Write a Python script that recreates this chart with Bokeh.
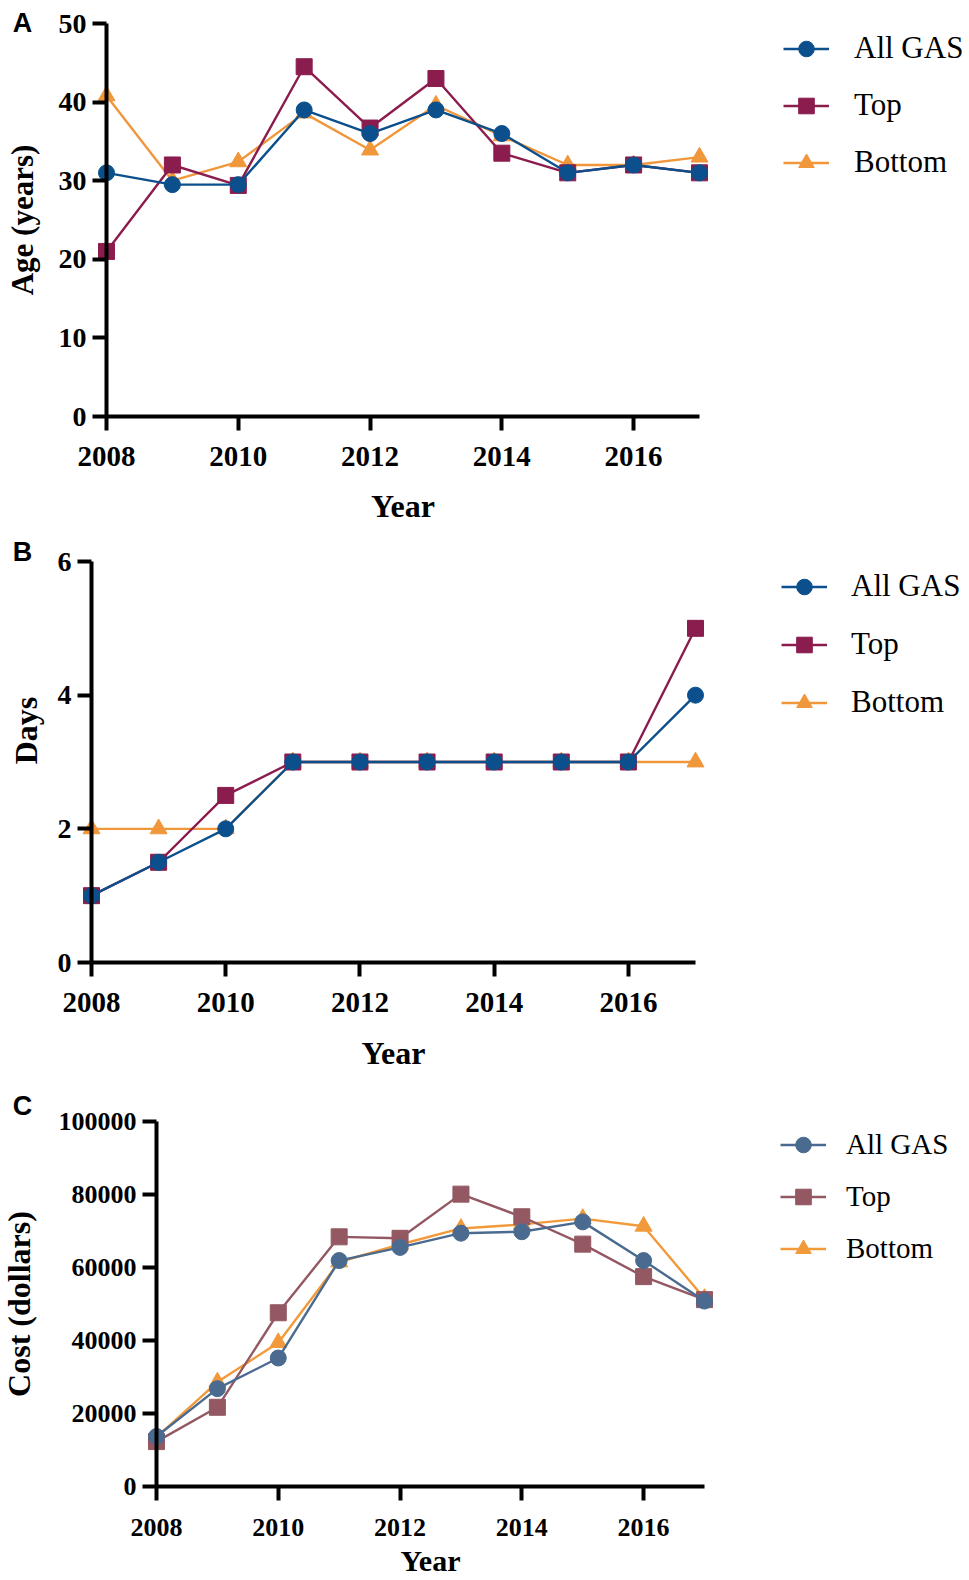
import math
from bokeh.plotting import figure
from bokeh.models import Range1d, FixedTicker, NumeralTickFormatter, Legend, LegendItem, Label
from bokeh.layouts import column
from bokeh.embed import file_html
from bokeh.resources import INLINE

years = [2008, 2009, 2010, 2011, 2012, 2013, 2014, 2015, 2016, 2017]
year_ticks = [2008, 2010, 2012, 2014, 2016]
series_names = ["All GAS", "Top", "Bottom"]

# Panel A: Age (years)
age_all = [31, 29.5, 29.5, 39, 36, 39, 36, 31, 32, 31]
age_top = [21, 32, 29.4, 44.5, 36.7, 43, 33.5, 31, 32, 31]
age_bottom = [40.8, 30, 32.4, 38.6, 33.9, 39.6, 35.7, 32, 32, 33]
age_ticks = [0, 10, 20, 30, 40, 50]

# Panel B: Days
days_all = [1, 1.5, 2, 3, 3, 3, 3, 3, 3, 4]
days_top = [1, 1.5, 2.5, 3, 3, 3, 3, 3, 3, 5]
days_bottom = [2, 2, 2, 3, 3, 3, 3, 3, 3, 3]
days_ticks = [0, 2, 4, 6]

# Panel C: Cost (dollars)
cost_all = [13700, 26800, 35200, 61900, 65500, 69400, 69800, 72500, 61900, 50800]
cost_top = [12300, 21700, 47600, 68400, 68000, 80100, 73900, 66400, 57500, 51200]
cost_bottom = [13500, 28600, 39400, 61500, 66300, 70700, 71800, 73400, 71300, 51500]
cost_ticks = [0, 20000, 40000, 60000, 80000, 100000]

COLORS_AB = ["#0b4f8c", "#8b1c4e", "#f0973b"]
COLORS_C = ["#4a6b8f", "#935861", "#f29a3a"]
MARKERS = ["circle", "square", "triangle"]

W = 965
SERIF = "Liberation Serif"


def panel(H, x0, x1, y0, ytop, ymax, yticks, ylabel, data, colors, letter, letter_y,
          tick_x_size, tick_y_size, xlab_size, ylab_size, xt_standoff, xl_standoff,
          ylab_standoff, leg, ylabel_pos=None):
    sx = (x1 - x0) / 9.0
    sy = (y0 - ytop) / ymax
    p = figure(width=W, height=H, output_backend="svg", toolbar_location=None, title=None,
               x_range=Range1d(2008 - x0 / sx, 2017 + (W - x1) / sx),
               y_range=Range1d(-(H - y0) / sy, ymax + ytop / sy),
               min_border=0, outline_line_color=None)
    p.grid.visible = False

    for ax in (p.xaxis[0], p.yaxis[0]):
        ax.axis_line_width = 4
        ax.axis_line_color = "black"
        ax.major_tick_line_width = 4
        ax.major_tick_line_color = "black"
        ax.major_tick_out = 14
        ax.major_tick_in = 0
        ax.minor_tick_out = 0
        ax.minor_tick_in = 0
        ax.major_label_text_font = SERIF
        ax.major_label_text_font_style = "bold"
        ax.major_label_text_color = "black"
        ax.axis_label_text_font = SERIF
        ax.axis_label_text_font_style = "bold"
        ax.axis_label_text_color = "black"

    xa = p.xaxis[0]
    xa.fixed_location = 0
    xa.bounds = (2008, 2017)
    xa.ticker = FixedTicker(ticks=year_ticks)
    xa.major_label_text_font_size = tick_x_size
    xa.major_label_standoff = xt_standoff
    xa.axis_label = "Year"
    xa.axis_label_text_font_size = xlab_size
    xa.axis_label_standoff = xl_standoff

    ya = p.yaxis[0]
    ya.fixed_location = 2008
    ya.bounds = (0, ymax)
    ya.ticker = FixedTicker(ticks=yticks)
    ya.formatter = NumeralTickFormatter(format="0")
    ya.major_label_text_font_size = tick_y_size
    ya.major_label_standoff = 6
    if ylabel_pos is None:
        ya.axis_label = ylabel
        ya.axis_label_text_font_size = ylab_size
        ya.axis_label_standoff = ylab_standoff
    else:
        lx, ly = ylabel_pos
        p.add_layout(Label(x=lx, y=H - ly, x_units="screen", y_units="screen", text=ylabel,
                           angle=math.pi / 2, text_font=SERIF, text_font_style="bold",
                           text_font_size=ylab_size, text_align="center",
                           text_baseline="middle", text_color="black"))

    rends = {}
    for i in (2, 1, 0):
        lr = p.line(years, data[i], line_color=colors[i], line_width=2.4)
        sr = p.scatter(years, data[i], marker=MARKERS[i], size=[16, 16, 17][i],
                       fill_color=colors[i], line_color=colors[i], line_width=1)
        rends[i] = [lr, sr]
    items = [LegendItem(label=series_names[i], renderers=rends[i]) for i in range(3)]

    gx, row0, pitch, lsize, standoff = leg
    ih = 39
    sp = round(pitch - ih)
    lh = 3 * ih + 2 * sp
    top = row0 - ih / 2
    legend = Legend(items=items, location=(gx, H - top - lh), orientation="vertical",
                    glyph_width=46, glyph_height=ih, label_height=ih, spacing=int(sp),
                    label_standoff=standoff, padding=0, margin=0,
                    label_text_font=SERIF, label_text_font_size=lsize,
                    label_text_color="black", border_line_color=None,
                    background_fill_alpha=0)
    p.add_layout(legend)

    p.add_layout(Label(x=22, y=H - letter_y, x_units="screen", y_units="screen", text=letter,
                       text_font="Liberation Sans", text_font_style="bold",
                       text_font_size="27px", text_align="center", text_baseline="middle",
                       text_color="black"))
    return p


pA = panel(535, 106, 699, 416, 23, 50, age_ticks, "Age (years)",
           [age_all, age_top, age_bottom], COLORS_AB, "A", 22,
           "29px", "28px", "32px", "31px", 16, 19, 16, (783, 48, 57, "31px", 25))
pB = panel(540, 91, 695, 427, 26, 6, days_ticks, "Days",
           [days_all, days_top, days_bottom], COLORS_AB, "B", 16,
           "29px", "28px", "32px", "32px", 16, 20, 14, (781, 51, 58, "31px", 24),
           ylabel_pos=(25, 195))
pC = panel(505, 156, 704, 411, 46, 100000, cost_ticks, "Cost (dollars)",
           [cost_all, cost_top, cost_bottom], COLORS_C, "C", 30,
           "26px", "26px", "30px", "32px", 18, 5, 19, (780, 69, 52, "29px", 20))

layout = column(pA, pB, pC, spacing=0)
open("out.html", "w").write(file_html(layout, INLINE))
